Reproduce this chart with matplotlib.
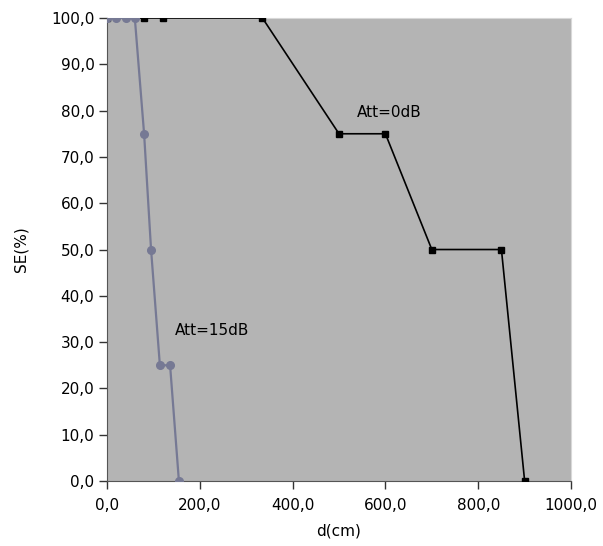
# SE vs distance, two attenuation settings
import matplotlib.pyplot as plt
from matplotlib.ticker import FuncFormatter

# Att=0dB series
d_0db = [0, 80, 120, 335, 500, 600, 700, 850, 900]
se_0db = [100, 100, 100, 100, 75, 75, 50, 50, 0]

# Att=15dB series
d_15db = [0, 20, 40, 60, 80, 95, 114, 136, 155]
se_15db = [100, 100, 100, 100, 75, 50, 25, 25, 0]

x_ticks = [0, 200, 400, 600, 800, 1000]
y_ticks = [0, 10, 20, 30, 40, 50, 60, 70, 80, 90, 100]

fig = plt.figure(figsize=(6.03, 5.46), dpi=100)
ax = fig.add_axes([0.1774, 0.119, 0.7696, 0.848])
ax.set_facecolor("#b4b4b4")

ax.plot(d_0db, se_0db, color="black", lw=1.2, marker="s", ms=5, zorder=3)
ax.plot(d_15db, se_15db, color="#767994", lw=1.6, marker="o", ms=5.5, zorder=4)

ax.text(539, 79.5, "Att=0dB", fontsize=11, va="center")
ax.text(147, 32.6, "Att=15dB", fontsize=11, va="center")

ax.set_xlim(0, 1000)
ax.set_ylim(0, 100)
ax.set_xticks(x_ticks)
ax.set_yticks(y_ticks)
comma = FuncFormatter(lambda v, p: f"{v:.1f}".replace(".", ","))
ax.xaxis.set_major_formatter(comma)
ax.yaxis.set_major_formatter(comma)
ax.tick_params(direction="out", length=6, width=1, pad=3, labelsize=11, color="#333333")
ax.tick_params(axis="x", pad=6)

for s in ["top", "right"]:
    ax.spines[s].set_color("#d8d8d8")
for s in ["left", "bottom"]:
    ax.spines[s].set_color("#555555")

ax.set_xlabel("d(cm)", fontsize=11, labelpad=8)
ax.set_ylabel("SE(%)", fontsize=11, labelpad=16)

plt.savefig("out.png", dpi=100)
